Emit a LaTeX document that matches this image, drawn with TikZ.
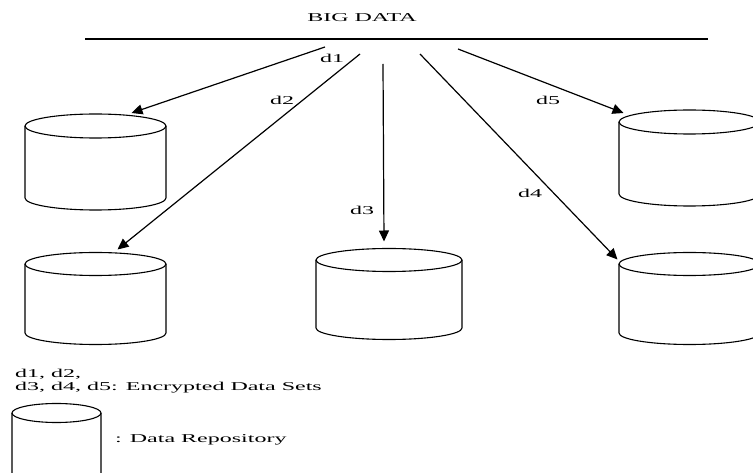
\documentclass[tikz,border=0pt]{standalone}
\usepackage{fontspec}
\setmainfont{Liberation Serif}[FakeStretch=2]
\usetikzlibrary{arrows.meta,calc}
\tikzset{
  pics/repo/.style args={#1/#2/#3}{code={
    \draw[line width=1.1pt] (0,0) ellipse ({#1/2} and #3);
    \draw[line width=1.1pt] ({-#1/2},0) -- ({-#1/2},#2) arc (180:0:{#1/2} and #3) -- ({#1/2},0);
    \coordinate (-top) at (0,-#3);
  }}
}
\begin{document}
\begin{tikzpicture}[x=1pt,y=-1pt,
  feed/.style={-{Triangle[length=11pt,width=10pt]},line width=1.2pt},
  lbl/.style={font=\fontsize{12}{13}\selectfont,inner sep=0pt}]
\useasboundingbox (0,0) rectangle (753,473);
\node[lbl] (title) at (362,18) {BIG DATA};
\draw[line width=1.2pt] (85,39) coordinate (barL) -- (708,39) coordinate (barR);
\coordinate (s1) at (325,47);
\coordinate (s2) at (360,54);
\coordinate (s3) at (383,64);
\coordinate (s4) at (420,54);
\coordinate (s5) at (458,49);
\pic (c1) at (95.5,126) {repo=141/72/12};
\pic (c2) at (95.5,264) {repo=141/69/11.5};
\pic (c3) at (389,260) {repo=146/68/11.5};
\pic (c4) at (689.5,122) {repo=141/72/12};
\pic (c5) at (689.5,264) {repo=141/69/11.5};
\draw[feed] (s1) -- ($(c1-top)+(36,-1)$);
\draw[feed] (s2) -- ($(c2-top)+(22,-3)$);
\draw[feed] (s3) -- ($(c3-top)+(-5,-7)$);
\draw[feed] (s4) -- ($(c5-top)+(-72,7)$);
\draw[feed] (s5) -- ($(c4-top)+(-66,3)$);
\node[lbl] (d1) at (332,58) {d1};
\node[lbl] (d2) at (282,100) {d2};
\node[lbl] (d3) at (362,210) {d3};
\node[lbl] (d4) at (530,193) {d4};
\node[lbl] (d5) at (548,100) {d5};
\node[lbl,anchor=west,align=left] (sets) at (15,381) {d1, d2,\\d3, d4, d5: Encrypted Data Sets};
\pic (key) at (56.5,413) {repo=89/70/9.5};
\node[lbl,anchor=west] (keytext) at (115,440) {: Data Repository};
\end{tikzpicture}
\end{document}
